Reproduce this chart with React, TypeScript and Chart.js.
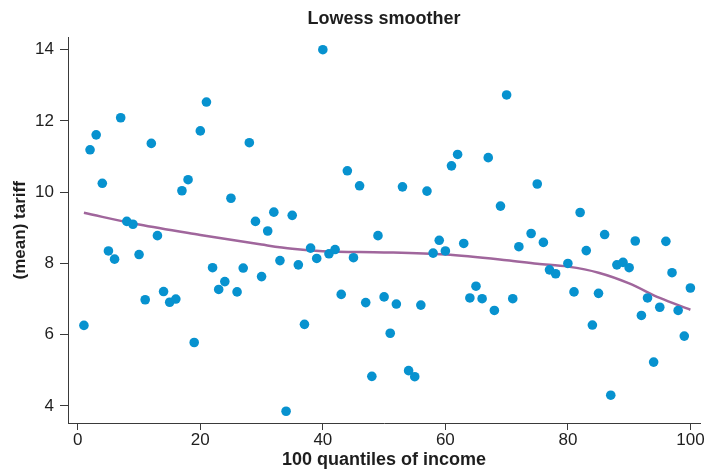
import React, { useEffect, useRef } from "react";
import { Chart, registerables } from "chart.js";

Chart.register(...registerables);

const quantiles = [
  1, 2, 3, 4, 5, 6, 7, 8, 9, 10,
  11, 12, 13, 14, 15, 16, 17, 18, 19, 20,
  21, 22, 23, 24, 25, 26, 27, 28, 29, 30,
  31, 32, 33, 34, 35, 36, 37, 38, 39, 40,
  41, 42, 43, 44, 45, 46, 47, 48, 49, 50,
  51, 52, 53, 54, 55, 56, 57, 58, 59, 60,
  61, 62, 63, 64, 65, 66, 67, 68, 69, 70,
  71, 72, 74, 75, 76, 77, 78, 80,
  81, 82, 83, 84, 85, 86, 87, 88, 89, 90,
  91, 92, 93, 94, 95, 96, 97, 98, 99, 100,
];

const tariff = [
  6.26, 11.19, 11.61, 10.25, 8.35, 8.12, 12.09, 9.18, 9.1, 8.25,
  6.98, 11.37, 8.78, 7.21, 6.91, 7.0, 10.04, 10.35, 5.78, 11.72,
  12.53, 7.88, 7.27, 7.49, 9.83, 7.2, 7.87, 11.39, 9.18, 7.63,
  8.91, 9.44, 8.08, 3.85, 9.35, 7.96, 6.29, 8.43, 8.14, 14.0,
  8.27, 8.39, 7.13, 10.6, 8.16, 10.18, 6.9, 4.83, 8.78, 7.06,
  6.04, 6.86, 10.15, 4.99, 4.82, 6.83, 10.03, 8.29, 8.65, 8.35,
  10.74, 11.06, 8.56, 7.03, 7.36, 7.01, 10.97, 6.68, 9.61, 12.73,
  7.01, 8.47, 8.84, 10.23, 8.59, 7.82, 7.71, 8.0,
  7.2, 9.43, 8.36, 6.27, 7.16, 8.81, 4.3, 7.96, 8.03, 7.88,
  8.63, 6.54, 7.03, 5.23, 6.77, 8.62, 7.74, 6.68, 5.96, 7.31,
];

const lowessX = [1, 10, 20, 30, 35, 40, 50, 60, 70, 75, 80, 85, 90, 95, 100];
const lowessY = [9.42, 9.09, 8.8, 8.53, 8.41, 8.34, 8.31, 8.25, 8.09, 7.99, 7.91, 7.74, 7.44, 7.03, 6.7];

const xTicks = [0, 20, 40, 60, 80, 100];
const yTicks = [4, 6, 8, 10, 12, 14];

const FONT = "'Liberation Sans', Arial, Helvetica, sans-serif";
const TEXT = "#1e1e1e";
const AXIS = "#3a3a3a";

export default function App() {
  const ref = useRef<HTMLCanvasElement | null>(null);

  useEffect(() => {
    if (!ref.current) return;
    const chart = new Chart(ref.current, {
      type: "scatter",
      data: {
        datasets: [
          {
            label: "tariff",
            data: quantiles.map((q, i) => ({ x: q, y: tariff[i] })),
            backgroundColor: "#0792cf",
            borderColor: "#0792cf",
            pointRadius: 4.8,
            pointBorderWidth: 0,
            showLine: false,
            order: 1,
          },
          {
            label: "lowess",
            type: "line",
            data: lowessX.map((x, i) => ({ x, y: lowessY[i] })),
            borderColor: "#a0669c",
            borderWidth: 2.5,
            pointRadius: 0,
            fill: false,
            cubicInterpolationMode: "monotone",
            order: 2,
          } as any,
        ],
      },
      options: {
        responsive: false,
        animation: false,
        devicePixelRatio: 1,
        layout: { padding: { left: 0, right: 0, top: 0, bottom: 0 } },
        plugins: {
          legend: { display: false },
          tooltip: { enabled: false },
          title: {
            display: true,
            fullSize: false,
            text: "Lowess smoother",
            color: TEXT,
            font: { family: FONT, size: 18, weight: "bold" },
            padding: { top: 8, bottom: 8 },
          },
        },
        scales: {
          x: {
            type: "linear",
            min: -1.6,
            max: 101.6,
            afterBuildTicks: (s: any) => {
              s.ticks = xTicks.map((v) => ({ value: v }));
            },
            afterFit: (s: any) => {
              s.height = 48;
            },
            grid: {
              drawOnChartArea: false,
              drawTicks: true,
              tickLength: 7,
              color: AXIS,
            },
            border: { display: true, color: AXIS, width: 1 },
            ticks: {
              color: TEXT,
              font: { family: FONT, size: 17 },
              padding: 0,
              maxRotation: 0,
              autoSkip: false,
              callback: (v: any) => String(v),
            },
            title: {
              display: true,
              text: "100 quantiles of income",
              color: TEXT,
              font: { family: FONT, size: 18, weight: "bold" },
              padding: { top: 0, bottom: 0 },
            },
          },
          y: {
            type: "linear",
            min: 3.52,
            max: 14.34,
            afterBuildTicks: (s: any) => {
              s.ticks = yTicks.map((v) => ({ value: v }));
            },
            afterFit: (s: any) => {
              s.width = 68;
            },
            grid: {
              drawOnChartArea: false,
              drawTicks: true,
              tickLength: 8,
              color: AXIS,
            },
            border: { display: true, color: AXIS, width: 1 },
            ticks: {
              color: TEXT,
              font: { family: FONT, size: 17 },
              padding: 6,
              autoSkip: false,
              callback: (v: any) => String(v),
            },
            title: {
              display: true,
              text: "(mean) tariff",
              color: TEXT,
              font: { family: FONT, size: 17, weight: "bold" },
              padding: { top: 10, bottom: 0 },
            },
          },
        },
      },
    });
    return () => chart.destroy();
  }, []);

  return (
    <div style={{ position: "absolute", left: 0, top: 0, width: 705, height: 471 }}>
      <canvas ref={ref} width={705} height={471} style={{ width: 705, height: 471, display: "block" }} />
    </div>
  );
}
